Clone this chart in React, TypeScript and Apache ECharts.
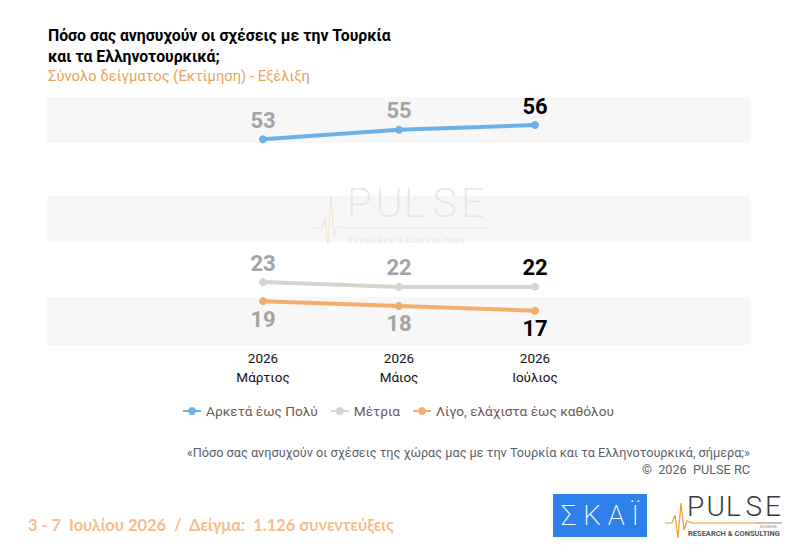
import React, { useEffect, useRef } from "react";
import * as echarts from "echarts";

const categories = ["2026\nΜάρτιος", "2026\nΜάιος", "2026\nΙούλιος"];
const seriesNames = ["Αρκετά έως Πολύ", "Μέτρια", "Λίγο, ελάχιστα έως καθόλου"];
const valuesMuch = [53, 55, 56];
const valuesMedium = [23, 22, 22];
const valuesLittle = [19, 18, 17];
const seriesColors = ["#6cb0e8", "#d8d3cb", "#f2ae6c"];
const labelPositions = ["top", "top", "bottom"];

const titleLines = ["Πόσο σας ανησυχούν οι σχέσεις με την Τουρκία", "και τα Ελληνοτουρκικά;"];
const subtitle = "Σύνολο δείγματος (Εκτίμηση) - Εξέλιξη";
const questionText = "«Πόσο σας ανησυχούν οι σχέσεις της χώρας μας με την Τουρκία και τα Ελληνοτουρκικά, σήμερα;»";
const copyrightText = "©  2026  PULSE RC";
const sampleText = "3 - 7  Ιουλίου 2026  /  Δείγμα:  1.126 συνεντεύξεις";
const logoLetters = ["P", "U", "L", "S", "E"];

function spacedWord(x0: number, y: number, step: number, font: string, fill: string) {
  return logoLetters.map((ch, i) => ({
    type: "text",
    x: x0 + i * step,
    y,
    style: { text: ch, font, fill },
  }));
}

export default function App() {
  const ref = useRef<HTMLDivElement>(null);
  useEffect(() => {
    if (!ref.current) return;
    const chart = echarts.init(ref.current, null, { renderer: "svg" });
    const allValues = [valuesMuch, valuesMedium, valuesLittle];
    const series = allValues.map((vals, si) => ({
      type: "line",
      name: seriesNames[si],
      data: vals.map((v, i) => ({
        value: v,
        label: {
          color: i === vals.length - 1 ? "#000000" : "#a3a3a3",
        },
      })),
      symbol: "circle",
      symbolSize: 8,
      lineStyle: { width: 4, color: seriesColors[si] },
      itemStyle: { color: seriesColors[si] },
      z: 5,
      label: {
        show: true,
        position: labelPositions[si],
        distance: labelPositions[si] === "top" ? 4 : 3,
        fontFamily: "Roboto",
        fontWeight: "bold",
        fontSize: 22,
      },
    }));

    const bands = [
      [97, 143],
      [196, 242],
      [297, 345],
    ].map(([y0, y1]) => ({
      type: "rect",
      shape: { x: 47, y: y0, width: 703, height: y1 - y0 },
      style: { fill: "#f7f7f7" },
      z: -10,
      silent: true,
    }));

    chart.setOption({
      animation: false,
      backgroundColor: "#ffffff",
      grid: { left: 195, right: 193, top: 106, bottom: 208 },
      xAxis: {
        type: "category",
        data: categories,
        boundaryGap: true,
        axisLine: { show: false },
        axisTick: { show: false },
        axisLabel: {
          margin: 4,
          color: "#111111",
          fontFamily: "Roboto",
          fontSize: 13.5,
          lineHeight: 19,
        },
      },
      yAxis: {
        type: "value",
        min: 10,
        max: 60,
        show: false,
        splitLine: { show: false },
      },
      legend: {
        data: seriesNames,
        top: 399,
        left: "center",
        itemWidth: 18,
        itemHeight: 10,
        itemGap: 12,
        textStyle: { color: "#6b5c57", fontFamily: "Roboto", fontSize: 13.7 },
      },
      series,
      graphic: [
        ...bands,
        {
          type: "text",
          left: 48,
          top: 25,
          style: {
            text: titleLines.join("\n"),
            font: "bold 15.8px Roboto",
            lineHeight: 21,
            fill: "#000000",
          },
        },
        {
          type: "text",
          left: 48,
          top: 68,
          style: { text: subtitle, font: "14.8px Roboto", fill: "#eea25c" },
        },
        // watermark
        {
          type: "group",
          z: -5,
          silent: true,
          children: [
            ...spacedWord(347, 182, 28.5, "200 41px Roboto", "#e6e6e6"),
            {
              type: "text",
              x: 348,
              y: 237,
              style: { text: "R E S E A R C H  &  C O N S U L T I N G", font: "7px Roboto", fill: "#e6e6e6" },
            },
            {
              type: "polyline",
              shape: {
                points: [
                  [314, 228],
                  [322, 228],
                  [325, 218],
                  [328, 244],
                  [331, 196],
                  [334, 236],
                  [337, 226],
                  [342, 228],
                  [490, 228],
                ],
              },
              style: { stroke: "#f7e3cf", lineWidth: 1, fill: null },
            },
          ],
        },
        {
          type: "text",
          right: 46,
          top: 446,
          style: { text: questionText, font: "12.7px Roboto", fill: "#58626a", align: "right" },
        },
        {
          type: "text",
          right: 46,
          top: 463,
          style: { text: copyrightText, font: "12.7px Roboto", fill: "#58626a", align: "right" },
        },
        {
          type: "text",
          left: 28,
          top: 516,
          style: { text: sampleText, font: "bold 16.4px Lato", fill: "#f7bd8d" },
        },
        // SKAI logo
        {
          type: "rect",
          shape: { x: 553, y: 494, width: 94, height: 43 },
          style: { fill: "#2d7fe9" },
        },
        {
          type: "text",
          x: 600,
          y: 515.5,
          style: {
            text: "Σ Κ Α Ϊ",
            font: "200 28px Roboto",
            fill: "#ffffff",
            align: "center",
            verticalAlign: "middle",
          },
        },
        // PULSE logo
        ...spacedWord(687, 492, 19.5, "300 28px Roboto", "#3a3a3a"),
        {
          type: "polyline",
          shape: {
            points: [
              [665, 523],
              [672, 523],
              [675, 515],
              [678, 538],
              [681, 503],
              [684, 530],
              [687, 521],
              [692, 523],
              [755, 523],
            ],
          },
          style: { stroke: "#f39a2b", lineWidth: 1.2, fill: null },
        },
        {
          type: "line",
          shape: { x1: 755, y1: 523, x2: 782, y2: 523 },
          style: { stroke: "#888888", lineWidth: 1 },
        },
        {
          type: "text",
          x: 760,
          y: 524,
          style: { text: "KOSMON", font: "4px Roboto", fill: "#888888" },
        },
        {
          type: "text",
          x: 688,
          y: 529,
          style: { text: "RESEARCH & CONSULTING", font: "bold 7.5px Roboto", fill: "#555555" },
        },
      ],
    });
    return () => chart.dispose();
  }, []);
  return (
    <div
      ref={ref}
      style={{ position: "absolute", left: 0, top: 0, width: 796, height: 552 }}
    />
  );
}
